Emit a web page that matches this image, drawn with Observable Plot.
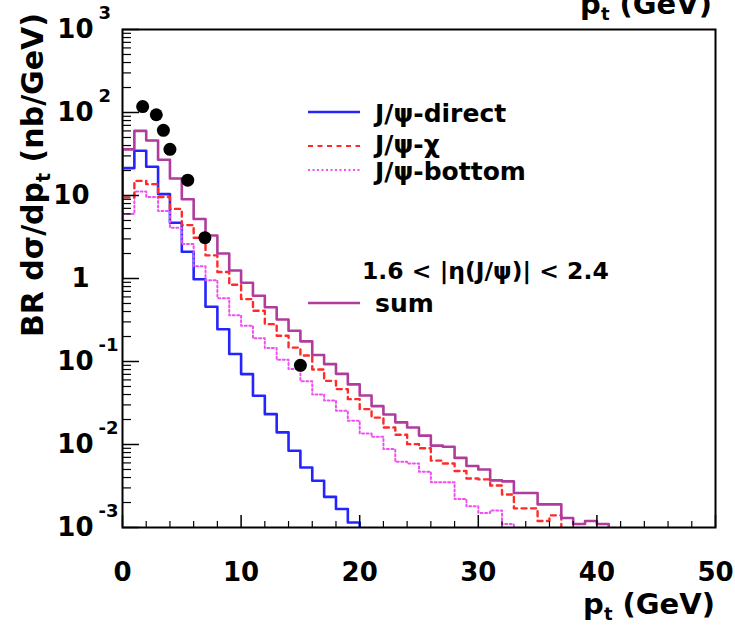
<!DOCTYPE html>
<html>
<head>
<meta charset="utf-8">
<script src="https://cdn.jsdelivr.net/npm/d3@7"></script>
<script src="https://cdn.jsdelivr.net/npm/@observablehq/plot@0.6"></script>
<style>
  html, body { margin: 0; padding: 0; background: #fff; }
  #chart { width: 735px; height: 628px; }
</style>
</head>
<body>
<div id="chart"></div>
<script>
// ---------------- data ----------------
// histogram bins: 1 GeV wide; first entry is the underflow bin [-1,0)
const binWidth = 1;
const binLow = [-1,0,1,2,3,4,5,6,7,8,9,10,11,12,13,14,15,16,17,18,19,20,
                21,22,23,24,25,26,27,28,29,30,31,32,33,34,35,36,37,38,39,40];

const direct = [1, 21.4, 34.6, 22.2, 10.4, 4.7, 2.1, 0.98, 0.456, 0.245, 0.123,
  0.0705, 0.0386, 0.0232, 0.014, 0.0084, 0.00528, 0.00366, 0.00234, 0.00167, 0.00115];

const chi = [1, 9.5, 15.0, 13.7, 9.6, 6.9, 4.4, 3.1, 1.9, 1.2, 0.84,
  0.565, 0.408, 0.282, 0.204, 0.147, 0.118, 0.08, 0.0585, 0.0465, 0.0352,
  0.0267, 0.0211, 0.016, 0.0131, 0.0101, 0.009, 0.0064, 0.0059, 0.0048, 0.0039,
  0.0038, 0.0032, 0.0025, 0.0017, 0.0017, 0.0012, 0.0014];

const bottom = [1, 6.0, 11.2, 9.6, 6.5, 4.1, 2.6, 1.4, 0.95, 0.58, 0.36,
  0.27, 0.19, 0.145, 0.105, 0.081, 0.058, 0.040, 0.034, 0.0255, 0.0193,
  0.0136, 0.0124, 0.0088, 0.0062, 0.0059, 0.0047, 0.0035, 0.0035, 0.0022, 0.0018,
  0.0015, 0.0016, 0.0011];

const sum = [1, 36, 60, 46, 27, 16, 9.0, 5.2, 3.3, 2.0, 1.25,
  0.89, 0.62, 0.45, 0.32, 0.235, 0.175, 0.12, 0.093, 0.071, 0.053,
  0.039, 0.029, 0.023, 0.0185, 0.016, 0.0128, 0.0097, 0.0094, 0.0069, 0.0055,
  0.0050, 0.0037, 0.0036, 0.0026, 0.0026, 0.0019, 0.0019, 0.0013, 0.0011, 0.0012, 0.0011];

// measured points
const dataPt    = [1.7, 2.85, 3.45, 4.0, 5.5, 6.95, 15.0];
const dataValue = [118, 94, 61, 36, 15.3, 3.1, 0.09];

// axes
const xDomain = [0, 50];
const yDomain = [1e-3, 1e3];
const xTickValues = [0, 10, 20, 30, 40, 50];
const xTickLabels = ["0", "10", "20", "30", "40", "50"];
const yTickValues = [1e-3, 1e-2, 1e-1, 1, 10, 100, 1000];
const yTickBase   = ["10", "10", "10", "1", "10", "10", "10"];
const yTickExp    = ["-3", "-2", "-1", "", "", "2", "3"];

// ---------------- layout ----------------
const W = 735, H = 628;
const mL = 122, mR = 20, mT = 29, mB = 101;
const frameW = W - mL - mR, frameH = H - mT - mB;
const font = "DejaVu Sans";

const colDirect = "#2424ff", colChi = "#ff2a2a", colBottom = "#f050f0", colSum = "#b03c9c";

function steps(values) {
  const pts = [];
  values.forEach((v, i) => {
    pts.push({x: binLow[i], y: v}, {x: binLow[i] + binWidth, y: v});
  });
  pts.push({x: binLow[values.length - 1] + binWidth, y: yDomain[0]});
  return pts;
}

const yMinor = [];
for (let e = -3; e < 3; e++) for (let m = 2; m <= 9; m++) yMinor.push(m * Math.pow(10, e));
const xMinor = d3.range(xDomain[0], xDomain[1] + 1, 2).filter(d => d % 10 !== 0);

const yLabels = yTickValues.map((v, i) => ({v, base: yTickBase[i], exp: yTickExp[i]}));
const xLabels = xTickValues.map((v, i) => ({v, label: xTickLabels[i]}));
const points = dataPt.map((x, i) => ({x, y: dataValue[i]}));

const txt = {fontFamily: font, fontWeight: "bold", fill: "black"};

const chart = Plot.plot({
  width: W, height: H,
  marginLeft: mL, marginRight: mR, marginTop: mT, marginBottom: mB,
  x: {type: "linear", domain: xDomain, axis: null},
  y: {type: "log", domain: yDomain, axis: null},
  style: {background: "white", overflow: "visible"},
  marks: [
    Plot.line(steps(direct), {x: "x", y: "y", stroke: colDirect, strokeWidth: 2.6, clip: true}),
    Plot.line(steps(bottom), {x: "x", y: "y", stroke: colBottom, strokeWidth: 2, strokeDasharray: "2,2.5", clip: true}),
    Plot.line(steps(chi), {x: "x", y: "y", stroke: colChi, strokeWidth: 2.4, strokeDasharray: "5,4.5", clip: true}),
    Plot.line(steps(sum), {x: "x", y: "y", stroke: colSum, strokeWidth: 2.6, clip: true}),
    Plot.dot(points, {x: "x", y: "y", r: 6.5, fill: "black", stroke: "none"}),
    // ticks drawn inward like ROOT
    Plot.tickY(yTickValues, {y: d => d, insetRight: frameW - 17, stroke: "black", strokeWidth: 1.5}),
    Plot.tickY(yMinor, {y: d => d, insetRight: frameW - 9, stroke: "black", strokeWidth: 1.2}),
    Plot.tickX(xTickValues, {x: d => d, insetTop: frameH - 12, stroke: "black", strokeWidth: 1.5}),
    Plot.tickX(xMinor, {x: d => d, insetTop: frameH - 6, stroke: "black", strokeWidth: 1.2}),
    Plot.frame({stroke: "black", strokeWidth: 2}),
    // tick labels
    Plot.text(yLabels.filter(d => d.exp !== ""), {y: "v", text: "base", frameAnchor: "left", dx: -29,
      textAnchor: "end", lineAnchor: "middle", fontSize: 26, ...txt}),
    Plot.text(yLabels.filter(d => d.exp === ""), {y: "v", text: "base", frameAnchor: "left", dx: -33,
      textAnchor: "end", lineAnchor: "middle", fontSize: 26, ...txt}),
    Plot.text(yLabels.filter(d => d.exp !== ""), {y: "v", text: "exp", frameAnchor: "left", dx: -24, dy: -16,
      textAnchor: "start", lineAnchor: "middle", fontSize: 18, ...txt}),
    Plot.text(xLabels, {x: "v", text: "label", frameAnchor: "bottom", dy: 45,
      textAnchor: "middle", lineAnchor: "middle", fontSize: 26, ...txt})
  ]
});

document.getElementById("chart").appendChild(chart);

// ---------------- titles and legend ----------------
const svg = d3.select(chart);
const g = svg.append("g").attr("font-family", font).attr("font-weight", "bold")
  .attr("fill", "black").attr("text-anchor", "start");

function ptLabel(sel, size) {
  sel.append("tspan").text("p");
  sel.append("tspan").attr("dy", size * 0.22).attr("font-size", size * 0.62).text("t");
  sel.append("tspan").attr("dy", -size * 0.22).text(" (GeV)");
}

// x-axis title
const xt = g.append("text").attr("x", mL + frameW).attr("y", 614).attr("text-anchor", "end").attr("font-size", 29);
ptLabel(xt, 29);
// clipped title at the very top (from the panel above)
const tt = g.append("text").attr("x", mL + frameW - 3).attr("y", 14).attr("text-anchor", "end").attr("font-size", 29);
ptLabel(tt, 29);

// y-axis title
const yt = g.append("text").attr("transform", "translate(43,13) rotate(-90)").attr("text-anchor", "end").attr("font-size", 30);
yt.append("tspan").text("BR d\u03c3/dp");
yt.append("tspan").attr("dy", 7).attr("font-size", 19).text("t");
yt.append("tspan").attr("dy", -7).text(" (nb/GeV)");

// legend
const legend = [
  {label: "J/\u03c8-direct", color: colDirect, dash: null, width: 2.4, ly: 112, ty: 122},
  {label: "J/\u03c8-\u03c7", color: colChi, dash: "5,4.5", width: 2.2, ly: 146, ty: 153},
  {label: "J/\u03c8-bottom", color: colBottom, dash: "2,2.5", width: 2, ly: 170, ty: 180},
  {label: "sum", color: colSum, dash: null, width: 2.6, ly: 303, ty: 312}
];
legend.forEach(d => {
  g.append("line").attr("x1", 308).attr("x2", 360).attr("y1", d.ly).attr("y2", d.ly)
    .attr("stroke", d.color).attr("stroke-width", d.width).attr("stroke-dasharray", d.dash);
  g.append("text").attr("x", 375).attr("y", d.ty).attr("font-size", 25).attr("text-anchor", "start").text(d.label);
});
g.append("text").attr("x", 362).attr("y", 279).attr("font-size", 23.5).attr("text-anchor", "start")
  .text("1.6 < |\u03b7(J/\u03c8)| < 2.4");
</script>
</body>
</html>
